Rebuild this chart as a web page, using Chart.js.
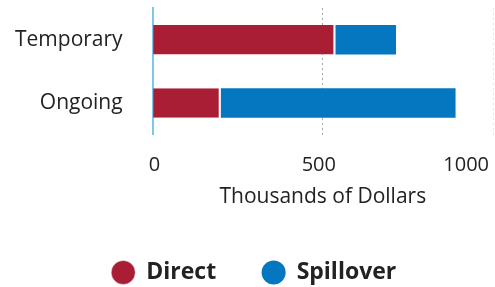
<!DOCTYPE html>
<html>
<head>
<meta charset="utf-8">
<script src="https://cdn.jsdelivr.net/npm/chart.js@4/dist/chart.umd.min.js"></script>
<style>
  html, body { margin: 0; padding: 0; background: #fff; }
  #wrap { width: 495px; height: 287px; }
</style>
</head>
<body>
<div id="wrap"><canvas id="chart"></canvas></div>
<script>
// Values (thousands of dollars)
const categories = ["Temporary", "Ongoing"]
const directValues = [537, 200]
const spilloverValues = [178, 690]
const xTicks = [0, 500, 1000]

const colors = {
  direct: "#AA1E35",
  spillover: "#0577C1",
  text: "#222222",
  axis: "#7CC6E8",
  grid: "#A8A8A8"
}

const font = "'Open Sans', sans-serif"
const clear = "rgba(0,0,0,0)"

function drawChart() {
  new Chart(document.getElementById("chart"), {
    type: "bar",
    data: {
      labels: categories,
      datasets: [
        {
          label: "Direct",
          data: directValues,
          backgroundColor: colors.direct,
          borderColor: "#ffffff",
          borderWidth: { left: 0, top: 0, bottom: 0, right: 2 },
          borderSkipped: false
        },
        {
          label: "Spillover",
          data: spilloverValues,
          backgroundColor: colors.spillover,
          borderWidth: 0
        }
      ]
    },
    options: {
      indexAxis: "y",
      responsive: true,
      maintainAspectRatio: false,
      animation: false,
      layout: {
        padding: { top: 8, left: 15, right: 2, bottom: 2 }
      },
      datasets: {
        bar: { categoryPercentage: 1, barPercentage: 0.465 }
      },
      plugins: {
        tooltip: { enabled: false },
        legend: {
          position: "bottom",
          maxHeight: 70,
          labels: {
            usePointStyle: true,
            pointStyle: "circle",
            boxHeight: 17,
            color: colors.text,
            padding: 46,
            font: { family: font, size: 23, weight: "bold" }
          }
        }
      },
      scales: {
        x: {
          stacked: true,
          min: 0,
          max: 1000,
          afterBuildTicks: (scale) => {
            scale.ticks = xTicks.map(v => ({ value: v }))
          },
          afterFit: (scale) => {
            scale.paddingLeft = 0
            scale.paddingRight = 0
          },
          // border.dash also sets the dash of the grid lines in v4
          border: { display: false, dash: [2, 3] },
          grid: {
            // invisible tick marks are used as the gap under the plot
            drawTicks: true,
            tickLength: 18,
            tickColor: clear,
            color: (ctx) => {
              if (ctx.tick && ctx.tick.value === 0) return clear
              if (ctx.tick && ctx.tick.value === 1000) return "#E4E4E4"
              return colors.grid
            },
            lineWidth: 1
          },
          ticks: {
            align: "inner",
            labelOffset: -4,
            padding: 0,
            color: colors.text,
            font: { family: font, size: 20 },
            callback: (v) => String(v)
          },
          title: {
            display: true,
            text: "Thousands of Dollars",
            color: colors.text,
            padding: { top: 8, bottom: 5 },
            font: { family: font, size: 21 }
          }
        },
        y: {
          stacked: true,
          afterFit: (scale) => {
            scale.paddingTop = 0
            scale.paddingBottom = 0
          },
          border: { display: true, color: colors.axis, width: 2 },
          grid: { display: false, drawTicks: true, tickLength: 30 },
          ticks: {
            padding: 0,
            color: colors.text,
            font: { family: font, size: 21 }
          }
        }
      }
    }
  })
}

Promise.all([
  document.fonts.load("21px 'Open Sans'"),
  document.fonts.load("bold 23px 'Open Sans'")
]).then(drawChart, drawChart)
</script>
</body>
</html>
